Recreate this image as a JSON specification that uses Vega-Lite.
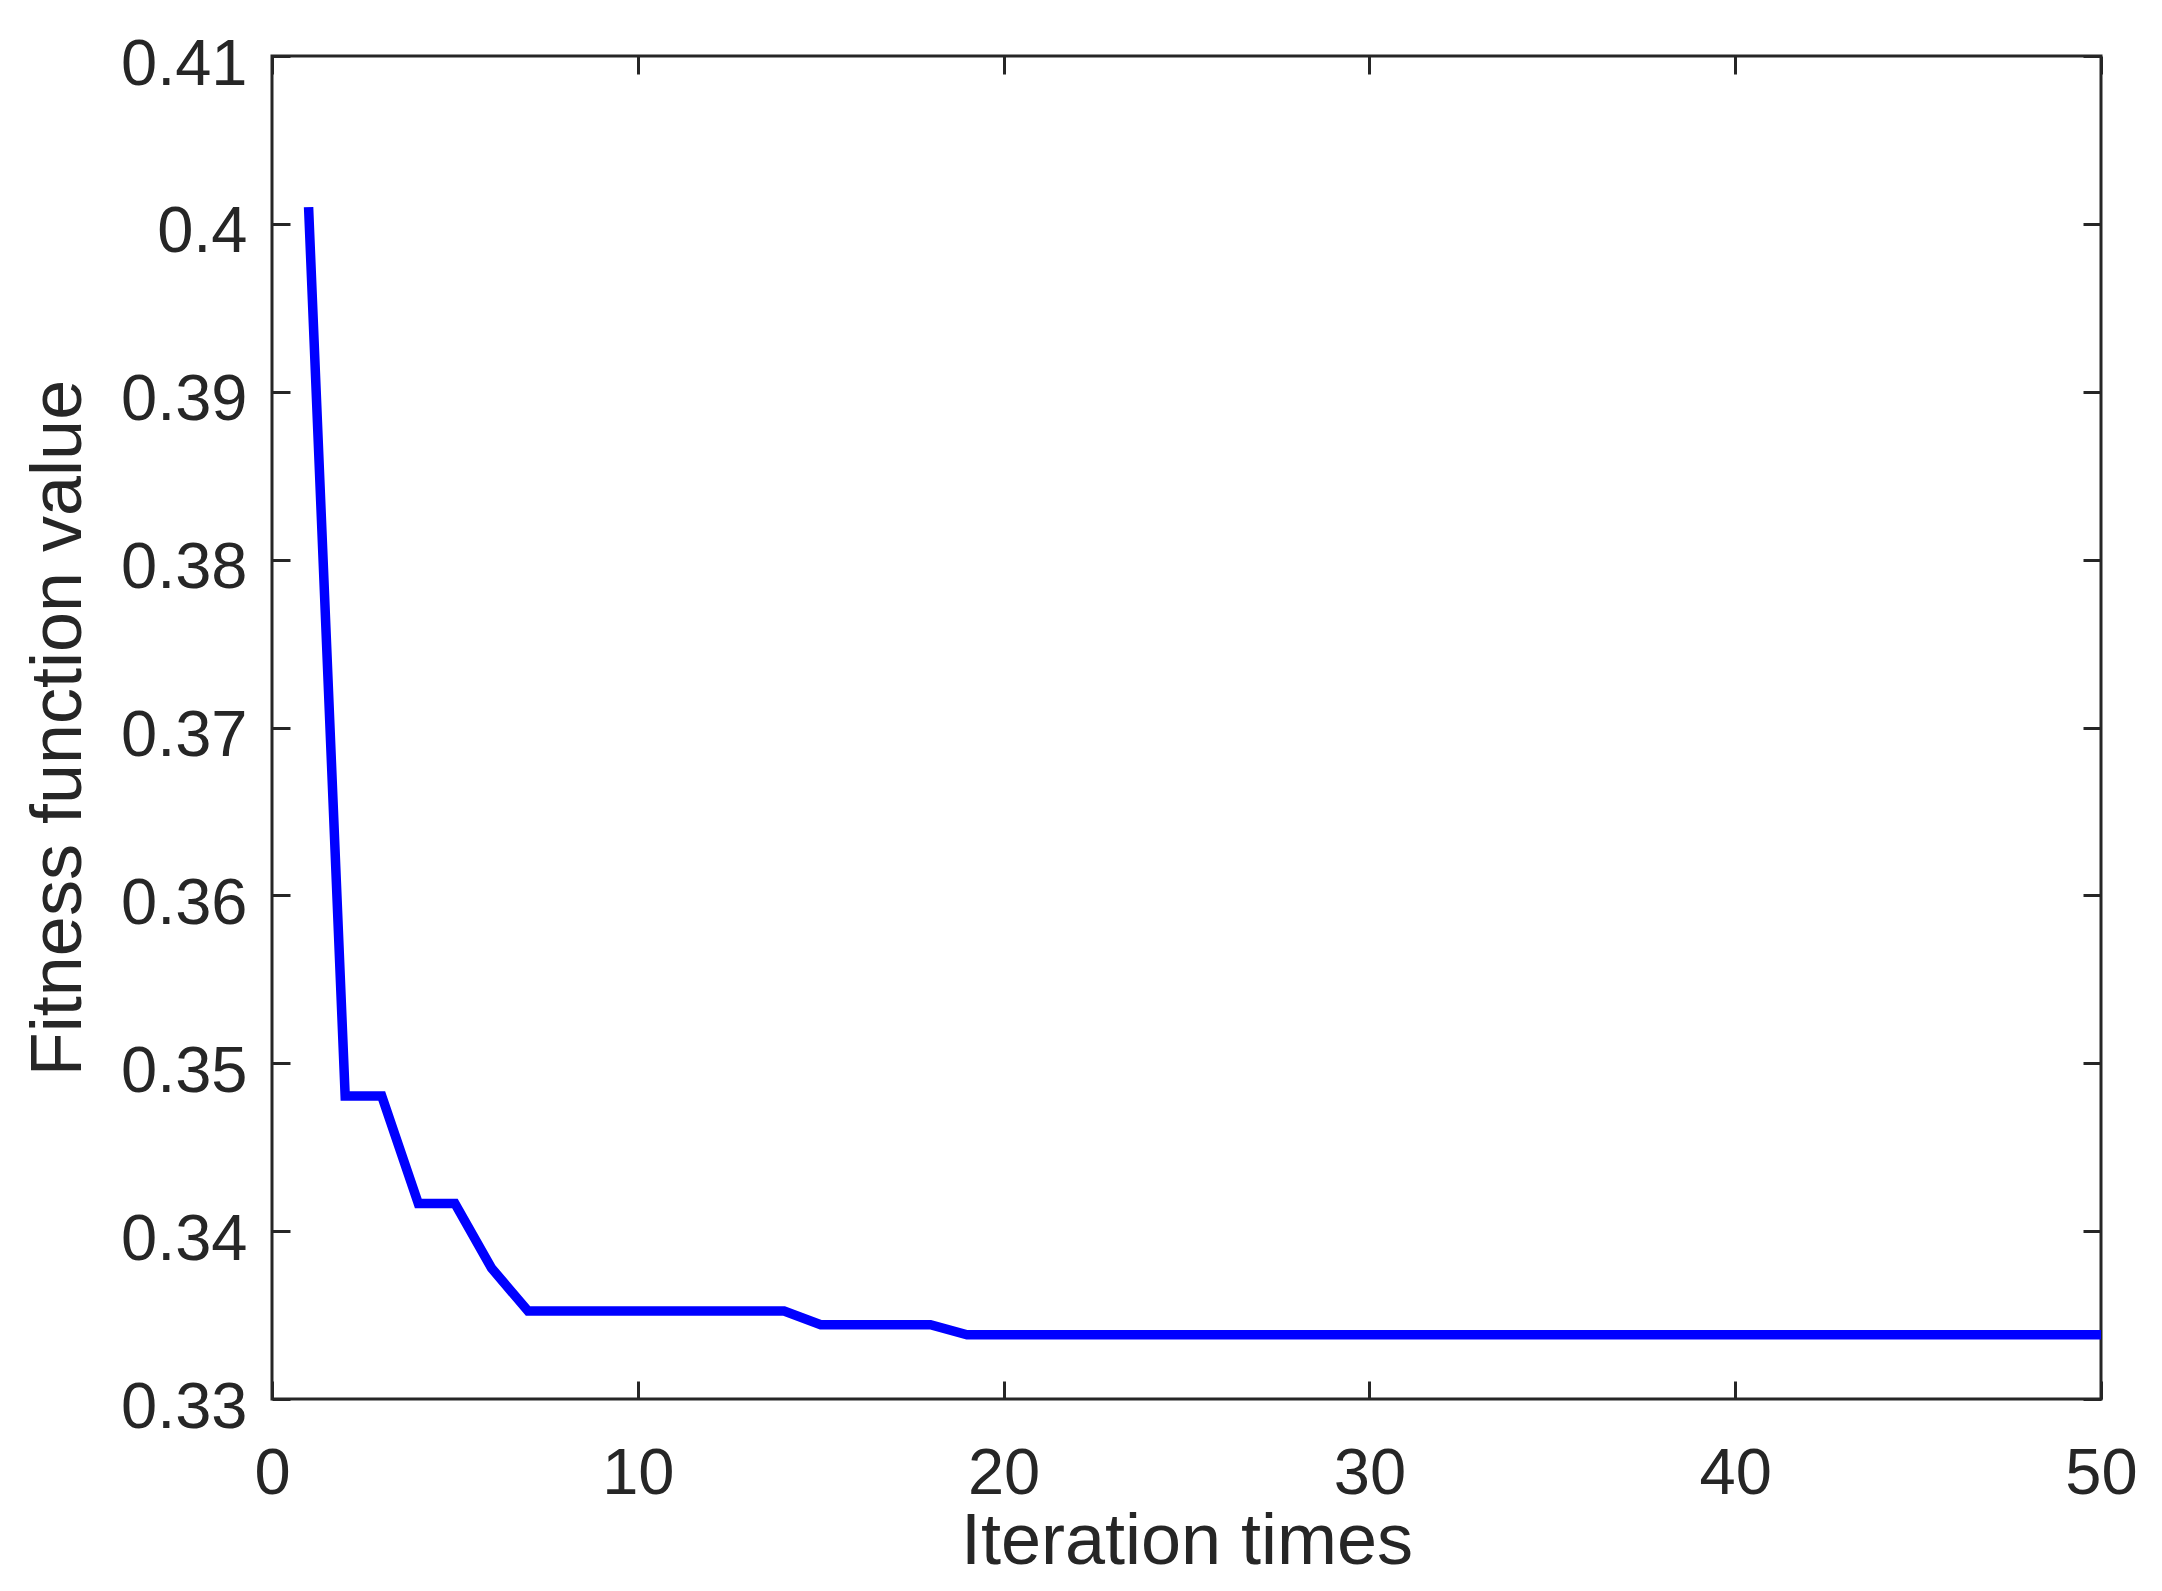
{
  "$schema": "https://vega.github.io/schema/vega-lite/v6.json",
  "width": 1829,
  "height": 1343,
  "autosize": {"type": "none"},
  "padding": {"left": 272, "top": 56, "right": 61, "bottom": 192},
  "background": "white",
  "config": {
    "view": {"stroke": "#262626", "strokeWidth": 3},
    "font": "Liberation Sans",
    "axis": {
      "domain": false,
      "grid": false,
      "tickColor": "#262626",
      "tickWidth": 3,
      "labelColor": "#262626",
      "labelFont": "Liberation Sans",
      "labelFontSize": 65,
      "titleColor": "#262626",
      "titleFont": "Liberation Sans",
      "titleFontSize": 72,
      "titleFontWeight": "normal"
    }
  },
  "data": {
    "values": [
      {"iteration": 1, "fitness": 0.401},
      {"iteration": 2, "fitness": 0.34805},
      {"iteration": 3, "fitness": 0.34805},
      {"iteration": 4, "fitness": 0.34165},
      {"iteration": 5, "fitness": 0.34165},
      {"iteration": 6, "fitness": 0.3378},
      {"iteration": 7, "fitness": 0.33524},
      {"iteration": 8, "fitness": 0.33524},
      {"iteration": 9, "fitness": 0.33524},
      {"iteration": 10, "fitness": 0.33524},
      {"iteration": 11, "fitness": 0.33524},
      {"iteration": 12, "fitness": 0.33524},
      {"iteration": 13, "fitness": 0.33524},
      {"iteration": 14, "fitness": 0.33524},
      {"iteration": 15, "fitness": 0.33443},
      {"iteration": 16, "fitness": 0.33443},
      {"iteration": 17, "fitness": 0.33443},
      {"iteration": 18, "fitness": 0.33443},
      {"iteration": 19, "fitness": 0.33382},
      {"iteration": 20, "fitness": 0.33382},
      {"iteration": 21, "fitness": 0.33382},
      {"iteration": 22, "fitness": 0.33382},
      {"iteration": 23, "fitness": 0.33382},
      {"iteration": 24, "fitness": 0.33382},
      {"iteration": 25, "fitness": 0.33382},
      {"iteration": 26, "fitness": 0.33382},
      {"iteration": 27, "fitness": 0.33382},
      {"iteration": 28, "fitness": 0.33382},
      {"iteration": 29, "fitness": 0.33382},
      {"iteration": 30, "fitness": 0.33382},
      {"iteration": 31, "fitness": 0.33382},
      {"iteration": 32, "fitness": 0.33382},
      {"iteration": 33, "fitness": 0.33382},
      {"iteration": 34, "fitness": 0.33382},
      {"iteration": 35, "fitness": 0.33382},
      {"iteration": 36, "fitness": 0.33382},
      {"iteration": 37, "fitness": 0.33382},
      {"iteration": 38, "fitness": 0.33382},
      {"iteration": 39, "fitness": 0.33382},
      {"iteration": 40, "fitness": 0.33382},
      {"iteration": 41, "fitness": 0.33382},
      {"iteration": 42, "fitness": 0.33382},
      {"iteration": 43, "fitness": 0.33382},
      {"iteration": 44, "fitness": 0.33382},
      {"iteration": 45, "fitness": 0.33382},
      {"iteration": 46, "fitness": 0.33382},
      {"iteration": 47, "fitness": 0.33382},
      {"iteration": 48, "fitness": 0.33382},
      {"iteration": 49, "fitness": 0.33382},
      {"iteration": 50, "fitness": 0.33382}
    ]
  },
  "layer": [
    {
      "mark": {"type": "line", "opacity": 0},
      "encoding": {
        "x": {"field": "iteration", "type": "quantitative", "scale": {"domain": [0, 50], "nice": false},
              "axis": {"orient": "bottom", "labels": false, "ticks": true, "tickSize": -18, "title": null, "values": [0, 10, 20, 30, 40, 50]}},
        "y": {"field": "fitness", "type": "quantitative", "scale": {"domain": [0.33, 0.41], "nice": false, "zero": false},
              "axis": {"orient": "left", "labels": false, "ticks": true, "tickSize": -18, "title": null, "values": [0.33, 0.34, 0.35, 0.36, 0.37, 0.38, 0.39, 0.4, 0.41]}}
      }
    },
    {
      "mark": {"type": "line", "opacity": 0},
      "encoding": {
        "x": {"field": "iteration", "type": "quantitative", "scale": {"domain": [0, 50], "nice": false},
              "axis": {"orient": "top", "labels": false, "ticks": true, "tickSize": -18, "title": null, "values": [0, 10, 20, 30, 40, 50]}},
        "y": {"field": "fitness", "type": "quantitative", "scale": {"domain": [0.33, 0.41], "nice": false, "zero": false},
              "axis": {"orient": "right", "labels": false, "ticks": true, "tickSize": -18, "title": null, "values": [0.33, 0.34, 0.35, 0.36, 0.37, 0.38, 0.39, 0.4, 0.41]}}
      }
    },
    {
      "mark": {"type": "line", "color": "#0000FF", "strokeWidth": 9.5},
      "encoding": {
        "x": {"field": "iteration", "type": "quantitative", "scale": {"domain": [0, 50], "nice": false},
              "axis": {"orient": "bottom", "ticks": false, "labelPadding": 43, "labelBaseline": "top", "title": "Iteration times", "titlePadding": 0, "values": [0, 10, 20, 30, 40, 50], "labelFlush": false}},
        "y": {"field": "fitness", "type": "quantitative", "scale": {"domain": [0.33, 0.41], "nice": false, "zero": false},
              "axis": {"orient": "left", "ticks": false, "labelPadding": 25, "labelOffset": 8, "format": ".2~f", "title": "Fitness function value", "titlePadding": 25, "values": [0.33, 0.34, 0.35, 0.36, 0.37, 0.38, 0.39, 0.4, 0.41], "labelFlush": false}}
      }
    }
  ],
  "resolve": {"axis": {"x": "independent", "y": "independent"}}
}
